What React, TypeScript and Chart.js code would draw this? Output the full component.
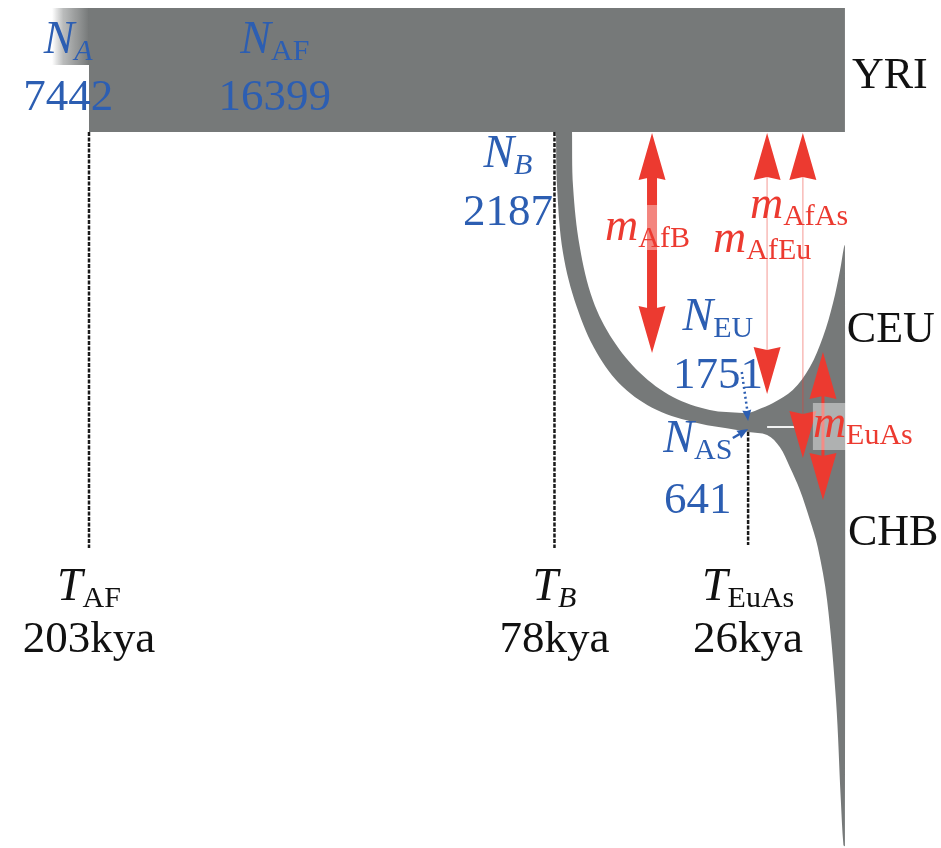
import React, { useEffect, useRef } from 'react';
import { Chart, registerables } from 'chart.js';

Chart.register(...registerables);

// ---------- axes (x: time in kya, reversed; y: layout lane units) ----------
const X_MIN = -25.8;
const X_MAX = 226.9;
const Y_MIN = 0;
const Y_MAX = 848;
const W = 941;
const H = 848;

// ---------- split times ----------
const SPLIT_SUBS = ['AF', 'B', 'EuAs'];
const SPLIT_TIMES = [203, 78, 26];
const SPLIT_SUB_ITALIC = [false, true, false];
const SPLIT_LINE_TOP = [132, 132, 432];
const SPLIT_LINE_BOTTOM = [548, 548, 545];

// ---------- effective population sizes ----------
const POP_SUBS = ['A', 'AF', 'B', 'EU', 'AS'];
const POP_SIZES = [7442, 16399, 2187, 1751, 641];
const POP_SUB_ITALIC = [true, false, true, false, false];
const POP_LABEL_KYA = [208.6, 153.1, 90.5, 34.1, 39.5];
const POP_LABEL_Y = [53, 53, 167, 330, 452];
const POP_VALUE_Y = [110, 110, 225, 388, 513];

// ---------- sampled populations ----------
const SAMPLE_NAMES = ['YRI', 'CEU', 'CHB'];
const SAMPLE_LABEL_KYA = [-1.9, -0.5, -0.8];
const SAMPLE_LABEL_Y = [88, 342, 545];

// ---------- migration ----------
const MIG_SUBS = ['AfB', 'AfAs', 'AfEu', 'EuAs'];
const MIG_LABEL_KYA = [64.4, 25.5, 35.4, 8.6];
const MIG_LABEL_Y = [240, 218, 252, 437];
const MIG_ARROW_KYA = [51.8, 11.3, 20.9, 5.9];
const MIG_ARROW_TOP = [133, 133, 133, 352];
const MIG_ARROW_BOTTOM = [353, 458, 394, 500];

// ---------- population outlines (kya, lane) ----------
const ANCESTRAL_KYA = [212.9, 203];
const ANCESTRAL_Y = [8, 65];
const AFRICA_KYA = [203, 0];
const AFRICA_Y = [8, 132];
const BRANCH_OUTER: number[][] = [
  [77.6, 128], [77.3, 187], [75.7, 253], [72.0, 307], [66.6, 353], [59.6, 387],
  [50.5, 410], [39.7, 423], [29.0, 430], [26.0, 432],
];
const CHB_EDGE: number[][] = [
  [20.9, 435], [17.5, 447], [14.8, 467], [12.1, 490], [9.4, 520], [7.3, 547],
  [4.8, 600], [2.4, 700], [1.1, 800], [0.4, 845],
];
const RIGHT_EDGE: number[][] = [[0, 846], [0, 245]];
const CEU_EDGE: number[][] = [
  [0.3, 248], [1.3, 270], [3.2, 303], [5.9, 337], [9.4, 367], [14.0, 390],
  [19.3, 403], [23.6, 410], [26.0, 413],
];
const BRANCH_INNER: number[][] = [
  [27.4, 413], [36.3, 410], [46.2, 397], [55.0, 373], [62.3, 340], [67.7, 300],
  [71.2, 247], [73.0, 187], [73.3, 128],
];
const SPLIT_GAP_KYA = [20.9, 12.1];
const SPLIT_GAP_Y = 427;

// ---------- styles ----------
const GRAY = 'rgb(118,121,121)';
const RED = 'rgb(236,58,48)';
const PINK = 'rgba(236,58,48,0.35)';
const BLUE = 'rgb(44,94,178)';
const BLACK = '#111';
const FONT = '"Liberation Serif", "Times New Roman", serif';
const PX_PER_KYA = W / (X_MAX - X_MIN);

const MIG_SHAFT_W = [10, 1.5, 1.5, 3];
const MIG_SHAFT_COLOR = [RED, PINK, PINK, RED];
const HEAD_LEN = 47;
const HEAD_W = 27;

type P = { x: number; y: number };
const pts = (arr: number[][]): P[] => arr.map(([x, y]) => ({ x, y }));

// arrowhead polygon (direction given in pixel space), returned in data units
function head(tip: P, dx: number, dy: number, len: number, w: number, notch = 3): P[] {
  const n = Math.hypot(dx, dy);
  const ux = dx / n, uy = dy / n;
  const nx = -uy, ny = ux;
  const toData = (ox: number, oy: number): P => ({ x: tip.x - ox / PX_PER_KYA, y: tip.y + oy });
  const bx = -ux * len, by = -uy * len;
  return [
    toData(0, 0),
    toData(bx + nx * w / 2, by + ny * w / 2),
    toData(bx + ux * notch, by + uy * notch),
    toData(bx - nx * w / 2, by - ny * w / 2),
  ];
}

const shape = (data: P[], color: any, order: number) => ({
  type: 'line' as const,
  data,
  backgroundColor: color,
  borderColor: 'rgba(0,0,0,0)',
  borderWidth: 0,
  fill: 'shape',
  pointRadius: 0,
  tension: 0,
  order,
});

const line = (data: P[], color: string, width: number, order: number, dash: number[] = []) => ({
  type: 'line' as const,
  data,
  borderColor: color,
  borderWidth: width,
  borderDash: dash,
  backgroundColor: 'rgba(0,0,0,0)',
  fill: false,
  pointRadius: 0,
  tension: 0,
  order,
});

function buildDatasets() {
  const ds: any[] = [];
  // ancestral population with fading edge
  ds.push({
    ...shape(
      pts([[ANCESTRAL_KYA[0], ANCESTRAL_Y[0]], [ANCESTRAL_KYA[1] - 0.3, ANCESTRAL_Y[0]], [ANCESTRAL_KYA[1] - 0.3, ANCESTRAL_Y[1]], [ANCESTRAL_KYA[0], ANCESTRAL_Y[1]]]),
      (c: any) => {
        const chart = c.chart;
        if (!chart.chartArea || !chart.scales.x) return GRAY;
        const x = chart.scales.x;
        const g = chart.ctx.createLinearGradient(x.getPixelForValue(ANCESTRAL_KYA[0]), 0, x.getPixelForValue(ANCESTRAL_KYA[1]), 0);
        g.addColorStop(0, 'rgba(118,121,121,0)');
        g.addColorStop(0.3, 'rgba(118,121,121,0.5)');
        g.addColorStop(1, 'rgba(118,121,121,1)');
        return g;
      },
      101,
    ),
  });
  // Africa (YRI) block
  ds.push(shape(pts([[AFRICA_KYA[0], AFRICA_Y[0]], [AFRICA_KYA[1], AFRICA_Y[0]], [AFRICA_KYA[1], AFRICA_Y[1]], [AFRICA_KYA[0], AFRICA_Y[1]]]), GRAY, 100));
  // out-of-Africa branch with CEU and CHB
  ds.push({
    ...shape(pts([...BRANCH_OUTER, ...CHB_EDGE, ...RIGHT_EDGE, ...CEU_EDGE, ...BRANCH_INNER]), GRAY, 100),
    tension: 0.35,
  });
  // gap between CEU and CHB
  ds.push(line(pts([[SPLIT_GAP_KYA[0], SPLIT_GAP_Y], [SPLIT_GAP_KYA[1], SPLIT_GAP_Y]]), 'rgba(255,255,255,0.9)', 2, 90));
  // split time dashed lines
  SPLIT_TIMES.forEach((t, i) => {
    ds.push(line([{ x: t, y: SPLIT_LINE_TOP[i] }, { x: t, y: SPLIT_LINE_BOTTOM[i] }], '#1a1a1a', 2.5, 80, [4, 1.5]));
  });
  // blue pointers to the split node
  const euStart = { x: 27.7, y: 372 };
  const euTip = { x: SPLIT_TIMES[2], y: 421 };
  ds.push(line([euStart, { x: 26.2, y: 411 }], BLUE, 2.5, 70, [2, 3]));
  ds.push(shape(head(euTip, 6, 49, 11, 9, 1), BLUE, 70));
  const asStart = { x: 30.1, y: 438 };
  const asTip = { x: SPLIT_TIMES[2], y: 429 };
  ds.push(line([asStart, { x: 27.8, y: 433 }], BLUE, 2.5, 70));
  ds.push(shape(head(asTip, 15, -9, 11, 9, 1), BLUE, 70));
  // migration arrows
  MIG_ARROW_KYA.forEach((k, i) => {
    const top = MIG_ARROW_TOP[i];
    const bot = MIG_ARROW_BOTTOM[i];
    ds.push(line([{ x: k, y: top + HEAD_LEN * 0.6 }, { x: k, y: bot - HEAD_LEN * 0.6 }], MIG_SHAFT_COLOR[i], MIG_SHAFT_W[i], 60));
    ds.push(shape(head({ x: k, y: top }, 0, -1, HEAD_LEN, HEAD_W), RED, 55));
    ds.push(shape(head({ x: k, y: bot }, 0, 1, HEAD_LEN, HEAD_W), RED, 55));
  });
  // translucent label boxes
  const box = (k0: number, k1: number, y0: number, y1: number) =>
    pts([[k0, y0], [k1, y0], [k1, y1], [k0, y1]]);
  ds.push(shape(box(55.0, 40.3, 205, 250), 'rgba(255,255,255,0.38)', 50));
  ds.push(shape(box(8.6, -19, 403, 450), 'rgba(255,255,255,0.42)', 50));
  return ds;
}

function drawLabel(
  ctx: CanvasRenderingContext2D, x: number, baseline: number, main: string, sub: string,
  color: string, mainItalic: boolean, subItalic: boolean, align: 'center' | 'left', mainSize = 46, subSize = 30, subDrop = 7,
) {
  const mf = `${mainItalic ? 'italic ' : ''}${mainSize}px ${FONT}`;
  const sf = `${subItalic ? 'italic ' : ''}${subSize}px ${FONT}`;
  ctx.font = mf;
  const mw = ctx.measureText(main).width;
  ctx.font = sf;
  const sw = sub ? ctx.measureText(sub).width : 0;
  const left = align === 'center' ? x - (mw + sw) / 2 : x;
  ctx.fillStyle = color;
  ctx.textAlign = 'left';
  ctx.textBaseline = 'alphabetic';
  ctx.font = mf;
  ctx.fillText(main, left, baseline);
  if (sub) {
    ctx.font = sf;
    ctx.fillText(sub, left + mw, baseline + subDrop);
  }
}

const textPlugin = {
  id: 'diagramText',
  afterDatasetsDraw(chart: any) {
    const { ctx } = chart;
    const xs = chart.scales.x;
    const ys = chart.scales.y;
    const px = (k: number) => xs.getPixelForValue(k);
    const py = (v: number) => ys.getPixelForValue(v);
    ctx.save();
    POP_SUBS.forEach((s, i) => {
      drawLabel(ctx, px(POP_LABEL_KYA[i]), py(POP_LABEL_Y[i]), 'N', s, BLUE, true, POP_SUB_ITALIC[i], 'center');
      drawLabel(ctx, px(POP_LABEL_KYA[i]), py(POP_VALUE_Y[i]), String(POP_SIZES[i]), '', BLUE, false, false, 'center', 45);
    });
    SPLIT_SUBS.forEach((s, i) => {
      drawLabel(ctx, px(SPLIT_TIMES[i]), py(600), 'T', s, BLACK, true, SPLIT_SUB_ITALIC[i], 'center');
      drawLabel(ctx, px(SPLIT_TIMES[i]), py(652), `${SPLIT_TIMES[i]}kya`, '', BLACK, false, false, 'center', 45);
    });
    SAMPLE_NAMES.forEach((n, i) => {
      drawLabel(ctx, px(SAMPLE_LABEL_KYA[i]), py(SAMPLE_LABEL_Y[i]), n, '', BLACK, false, false, 'left', 44);
    });
    MIG_SUBS.forEach((s, i) => {
      drawLabel(ctx, px(MIG_LABEL_KYA[i]), py(MIG_LABEL_Y[i]), 'm', s, RED, true, false, 'left');
    });
    ctx.restore();
  },
};

export default function App() {
  const ref = useRef<HTMLCanvasElement | null>(null);
  useEffect(() => {
    if (!ref.current) return;
    const chart = new Chart(ref.current, {
      type: 'line',
      data: { datasets: buildDatasets() },
      options: {
        animation: false,
        responsive: false,
        maintainAspectRatio: false,
        devicePixelRatio: 1,
        layout: { padding: 0 },
        events: [],
        plugins: { legend: { display: false }, tooltip: { enabled: false } },
        scales: {
          x: { type: 'linear', min: X_MIN, max: X_MAX, reverse: true, display: false },
          y: { type: 'linear', min: Y_MIN, max: Y_MAX, reverse: true, display: false },
        },
      },
      plugins: [textPlugin],
    } as any);
    return () => chart.destroy();
  }, []);
  return (
    <div style={{ position: 'absolute', left: 0, top: 0, width: W, height: H, background: '#fff' }}>
      <canvas ref={ref} width={W} height={H} style={{ display: 'block', width: W, height: H }} />
    </div>
  );
}
